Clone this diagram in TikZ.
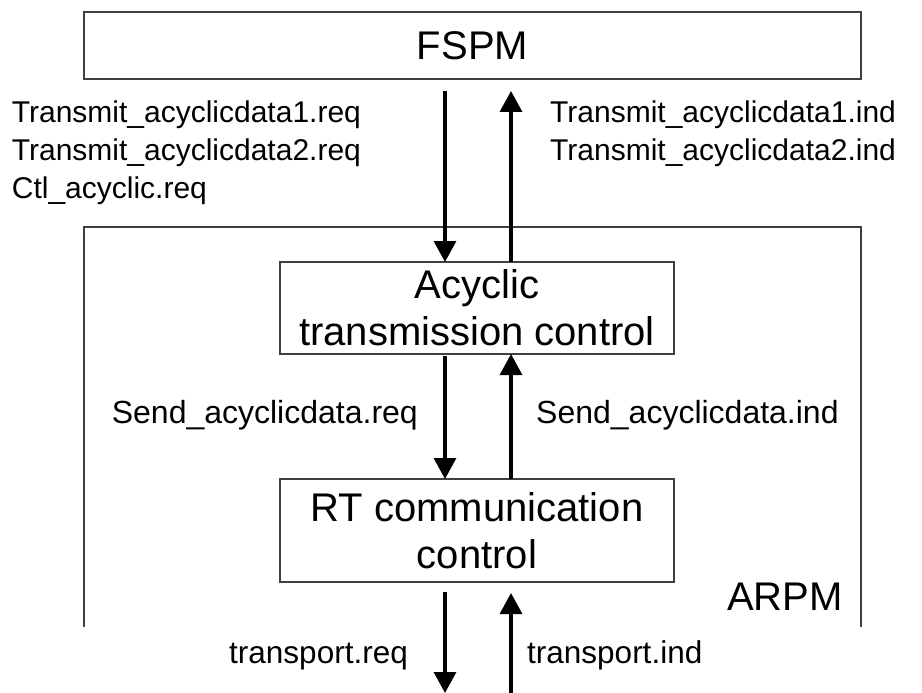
\documentclass[tikz,border=0pt]{standalone}
\usepackage{fontspec}
\setmainfont{Liberation Sans}
\usetikzlibrary{arrows.meta}
\begin{document}
\begin{tikzpicture}[x=1pt,y=-1pt,
  box/.style={draw=black!75, line width=1.5pt, rectangle, inner sep=0pt, outer sep=0pt, align=center, font=\fontsize{40}{47}\selectfont},
  big/.style={inner sep=0pt, font=\fontsize{40}{47}\selectfont},
  lbl/.style={inner sep=0pt, font=\fontsize{30}{36}\selectfont},
  lblm/.style={inner sep=0pt, font=\fontsize{32}{38}\selectfont},
  lblb/.style={inner sep=0pt, font=\fontsize{31.5}{38}\selectfont},
  arr/.style={line width=3.3pt, -{Triangle[width=22pt,length=21pt]}},
  frame/.style={draw=black!75, line width=1.5pt}]
\useasboundingbox (0,0) rectangle (922,693);
% boxes
\node[box, minimum width=777pt, minimum height=67pt] (fspm) at (472.5,45.5) {FSPM};
\node[box, minimum width=394pt, minimum height=92pt] (acyc) at (477,308) {Acyclic\\transmission control};
\node[box, minimum width=394pt, minimum height=103pt] (rt) at (477,530.5) {RT communication\\control};
% ARPM frame (open at the bottom)
\coordinate (fbl) at (84,627);
\coordinate (ftl) at (84,227);
\coordinate (ftr) at (861,227);
\coordinate (fbr) at (861,627);
\draw[frame] (fbl) -- (ftl) -- (ftr) -- (fbr);
\node[big, anchor=base east] (arpm) at (843,610) {ARPM};
% arrow columns
\coordinate (dx) at (445,0);
\coordinate (ux) at (511,0);
\coordinate (bd) at (445,693);
\coordinate (bu) at (511,693);
\draw[arr, shorten <=12pt] (fspm.south -| dx) -- (acyc.north -| dx);
\draw[arr, shorten >=12pt] (acyc.north -| ux) -- (fspm.south -| ux);
\draw[arr, shorten <=2pt] (acyc.south -| dx) -- (rt.north -| dx);
\draw[arr] (rt.north -| ux) -- (acyc.south -| ux);
\draw[arr, shorten <=10pt] (rt.south -| dx) -- (bd);
\draw[arr, shorten >=11pt] (bu) -- (rt.south -| ux);
% labels
\node[lbl, anchor=base west] (l1) at (11.7,123) {Transmit\_acyclicdata1.req};
\node[lbl, anchor=base west] (l2) at (11.7,160.5) {Transmit\_acyclicdata2.req};
\node[lbl, anchor=base west] (l3) at (11.7,198) {Ctl\_acyclic.req};
\node[lbl, anchor=base west] (r1) at (550,123) {Transmit\_acyclicdata1.ind};
\node[lbl, anchor=base west] (r2) at (550,160.5) {Transmit\_acyclicdata2.ind};
\node[lblm, anchor=base east] (sreq) at (418,423) {Send\_acyclicdata.req};
\node[lblm, anchor=base west] (sind) at (536,423) {Send\_acyclicdata.ind};
\node[lblb, anchor=base east] (treq) at (408,663) {transport.req};
\node[lblb, anchor=base west] (tind) at (527,663) {transport.ind};
\end{tikzpicture}
\end{document}
